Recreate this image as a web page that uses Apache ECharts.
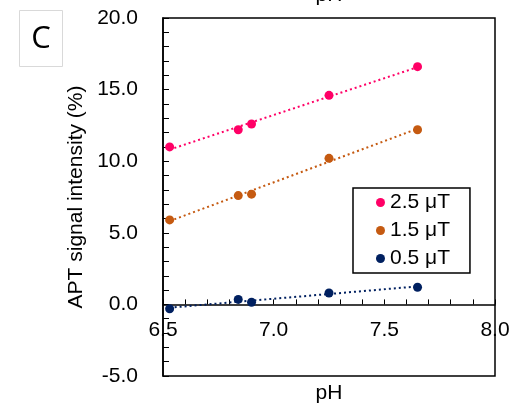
<!DOCTYPE html>
<html>
<head>
<meta charset="utf-8">
<script src="https://cdn.jsdelivr.net/npm/echarts@6/dist/echarts.min.js"></script>
<style>
  html, body { margin: 0; padding: 0; background: #fff; }
  #chart { width: 509px; height: 403px; }
</style>
</head>
<body>
<div id="chart"></div>
<script>
// pH of the samples (shared by all three saturation powers)
var phValues = [6.53, 6.84, 6.90, 7.25, 7.65];
// APT signal intensity (%) per B1 saturation power
var apt25 = [11.0, 12.2, 12.6, 14.6, 16.6];
var apt15 = [5.9, 7.6, 7.7, 10.2, 12.2];
var apt05 = [-0.3, 0.35, 0.15, 0.8, 1.2];
var seriesNames = ['2.5 μT', '1.5 μT', '0.5 μT'];
var seriesColors = ['#ff0066', '#c55a11', '#002060'];

var font = 'Liberation Sans, Arial, sans-serif';
var fs = 21;

// least squares trend line, from first to last pH
function trend(xs, ys) {
    var n = xs.length, sx = 0, sy = 0, sxx = 0, sxy = 0;
    for (var i = 0; i < n; i++) {
        sx += xs[i]; sy += ys[i];
        sxx += xs[i] * xs[i]; sxy += xs[i] * ys[i];
    }
    var b = (n * sxy - sx * sy) / (n * sxx - sx * sx);
    var a = (sy - b * sx) / n;
    var x0 = xs[0], x1 = xs[n - 1];
    return [[x0, a + b * x0], [x1, a + b * x1]];
}

function pairs(xs, ys) {
    return xs.map(function (x, i) { return [x, ys[i]]; });
}

var allData = [apt25, apt15, apt05];
var series = [];
allData.forEach(function (ys, i) {
    series.push({
        type: 'line',
        data: trend(phValues, ys),
        symbol: 'none',
        silent: true,
        z: 2,
        lineStyle: { color: seriesColors[i], width: 2, type: [2, 3] }
    });
});
allData.forEach(function (ys, i) {
    series.push({
        name: seriesNames[i],
        type: 'scatter',
        data: pairs(phValues, ys),
        symbol: 'circle',
        symbolSize: 9,
        z: 3,
        itemStyle: { color: seriesColors[i], opacity: 1 }
    });
});

var gridTop = 18, gridH = 358, yMin = -5, yMax = 20;
// move the x axis up to the y = 0 line (labels follow it too)
var zeroOffset = -gridH * (0 - yMin) / (yMax - yMin);

var chart = echarts.init(document.getElementById('chart'), null, { renderer: 'canvas' });
chart.setOption({
    animation: false,
    backgroundColor: '#fff',
    grid: {
        left: 163, top: gridTop, width: 332, height: gridH,
        show: true, borderColor: '#000', borderWidth: 1.5,
        containLabel: false, outerBoundsMode: 'none'
    },
    legend: {
        data: seriesNames,
        orient: 'vertical',
        left: 353, top: 188,
        icon: 'circle',
        itemWidth: 9, itemHeight: 9,
        itemGap: 7,
        padding: [4, 20, 4, 23],
        borderColor: '#000', borderWidth: 1.5,
        backgroundColor: '#fff',
        textStyle: { fontFamily: font, fontSize: fs, color: '#000' }
    },
    xAxis: {
        type: 'value',
        min: 6.5, max: 8.0, interval: 0.5,
        offset: zeroOffset,
        axisLine: { onZero: false, lineStyle: { color: '#000', width: 1.5 } },
        axisTick: { show: true, inside: true, length: 5, lineStyle: { color: '#000', width: 1 } },
        minorTick: { show: true, splitNumber: 5, length: 5, lineStyle: { color: '#000', width: 1 } },
        splitLine: { show: false },
        axisLabel: {
            margin: 15, fontFamily: font, fontSize: fs, color: '#000',
            formatter: function (v) { return v.toFixed(1); }
        }
    },
    yAxis: {
        type: 'value',
        min: yMin, max: yMax, interval: 5,
        name: 'APT signal intensity (%)',
        nameLocation: 'middle',
        nameGap: 74,
        nameTextStyle: { fontFamily: font, fontSize: fs, color: '#000' },
        axisLine: { show: true, lineStyle: { color: '#000', width: 1.5 } },
        axisTick: { show: true, inside: true, length: 6, lineStyle: { color: '#000', width: 1 } },
        minorTick: { show: true, splitNumber: 5, length: 6, lineStyle: { color: '#000', width: 1 } },
        splitLine: { show: false },
        axisLabel: {
            margin: 25, fontFamily: font, fontSize: fs, color: '#000',
            formatter: function (v) { return v.toFixed(1); }
        }
    },
    graphic: [
        {
            type: 'rect', left: 19, top: 10,
            shape: { width: 43, height: 56 },
            style: { fill: '#fff', stroke: '#d9d9d9', lineWidth: 1 }
        },
        {
            type: 'text', x: 41, y: 39,
            style: {
                text: 'C', fontFamily: 'Open Sans, sans-serif', fontSize: 31,
                fill: '#000', textAlign: 'center', textVerticalAlign: 'middle'
            }
        },
        {
            type: 'text', x: 329, y: 393,
            style: {
                text: 'pH', fontFamily: font, fontSize: fs,
                fill: '#000', textAlign: 'center', textVerticalAlign: 'middle'
            }
        },
        {
            type: 'text', x: 329, y: 6,
            style: {
                text: 'pH', fontFamily: font, fontSize: fs,
                fill: '#000', textAlign: 'center', textVerticalAlign: 'bottom'
            }
        }
    ],
    series: series
});
</script>
</body>
</html>
